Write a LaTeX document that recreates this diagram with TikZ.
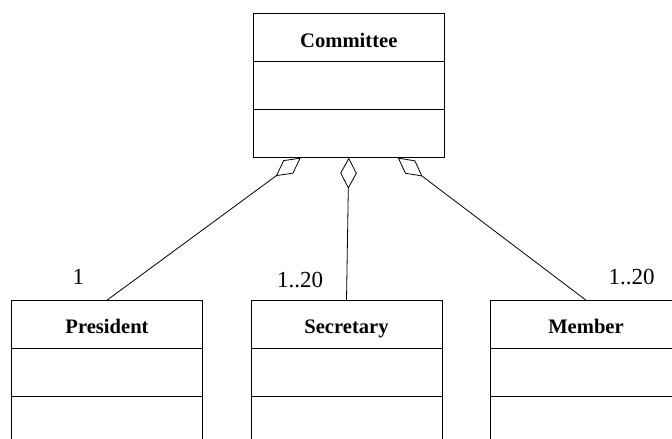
\documentclass[tikz,border=0pt]{standalone}
\usepackage{fontspec}
\setmainfont{Liberation Serif}
\usetikzlibrary{arrows.meta,calc}
\begin{document}
\begin{tikzpicture}[x=1pt,y=-1pt,
  classbox/.style={draw, line width=1pt, minimum width=191pt, minimum height=144pt, inner sep=0pt},
  classtitle/.style={font=\fontsize{20.6}{24}\selectfont\bfseries, anchor=base, inner sep=0pt},
  mult/.style={font=\fontsize{23}{27}\selectfont, inner sep=0pt},
  agg/.style={line width=0.8pt, {Diamond[open,length=31pt,width=16.5pt]}-}]
\useasboundingbox (0,0) rectangle (672,439);
\clip (0,0) rectangle (672,439);
\node[classbox] (committee) at (348.8,85.2) {};
\node[classbox] (president) at (107,372.7) {};
\node[classbox] (secretary) at (346.5,372.7) {};
\node[classbox] (member) at (586,372.7) {};
\foreach \n in {committee,president,secretary,member}{
  \draw[line width=1pt] ($(\n.north west)!1/3!(\n.south west)$) -- ($(\n.north east)!1/3!(\n.south east)$);
  \draw[line width=1pt] ($(\n.north west)!2/3!(\n.south west)$) -- ($(\n.north east)!2/3!(\n.south east)$);
}
\node[classtitle] (committeeT) at ([yshift=-35pt]committee.north) {Committee};
\node[classtitle] (presidentT) at ([yshift=-33.5pt]president.north) {President};
\node[classtitle] (secretaryT) at ([yshift=-33.5pt]secretary.north) {Secretary};
\node[classtitle] (memberT) at ([yshift=-33.5pt]member.north) {Member};
\coordinate (tipL) at ([xshift=-48pt]committee.south);
\coordinate (tipR) at ([xshift=49pt]committee.south);
\draw[agg] (tipL) -- (president.north);
\draw[agg] (committee.south) -- (secretary.north);
\draw[agg] (tipR) -- (member.north);
\node[mult] (m1) at (78.3,276.5) {1};
\node[mult] (m2) at (300,280) {1..20};
\node[mult] (m3) at (631.7,277) {1..20};
\end{tikzpicture}
\end{document}
